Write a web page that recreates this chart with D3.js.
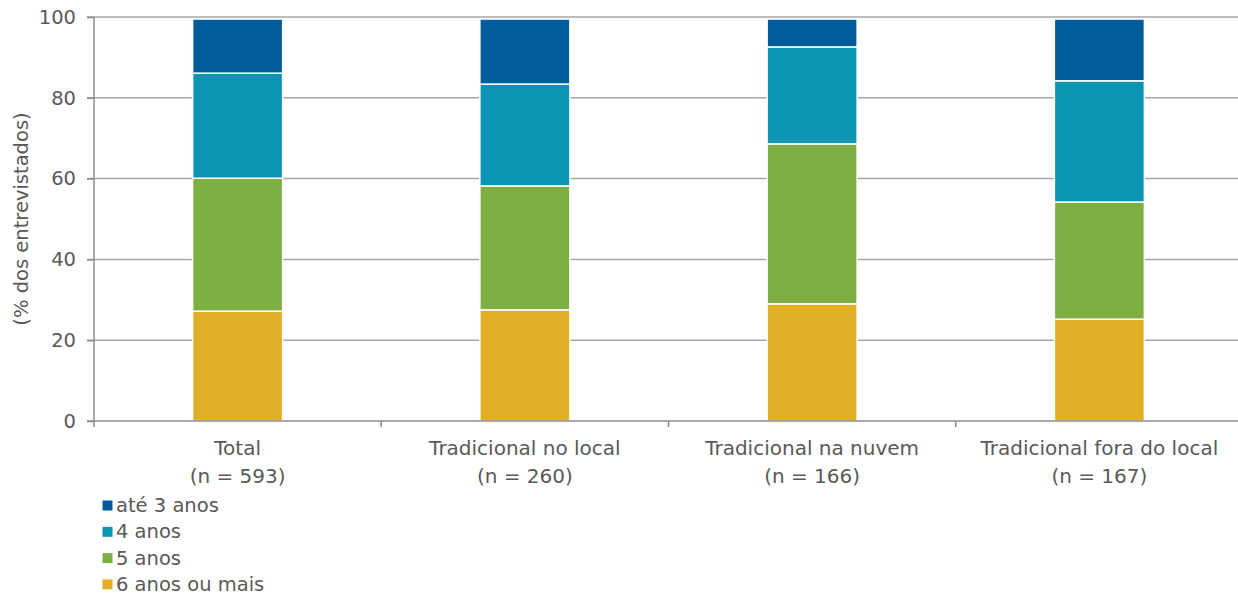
<!DOCTYPE html>
<html>
<head>
<meta charset="utf-8">
<script src="https://cdn.jsdelivr.net/npm/d3@7"></script>
<style>
  body { margin: 0; background: #fff; }
  text { font-family: 'DejaVu Sans', sans-serif; fill: #595959; }
</style>
</head>
<body>
<svg id="chart"></svg>
<script>
// categories and series (percent of respondents)
const categories = ['Total', 'Tradicional no local', 'Tradicional na nuvem', 'Tradicional fora do local']
const sampleSizes = ['(n = 593)', '(n = 260)', '(n = 166)', '(n = 167)']
const seriesNames = ['6 anos ou mais', '5 anos', '4 anos', 'até 3 anos']
const sixPlus = [27.2, 27.5, 29.0, 25.2]
const five = [32.9, 30.7, 39.6, 29.0]
const four = [26.0, 25.2, 24.0, 30.0]
const upToThree = [13.4, 16.1, 6.9, 15.3]
const colors = ['#e0af25', '#7daf42', '#0b95b3', '#005b9a']
const yTicks = [0, 20, 40, 60, 80, 100]

const W = 1238
const H = 598
const margin = { top: 17, left: 94, right: -5, bottom: 177 }
const width = W - margin.left - margin.right
const height = H - margin.top - margin.bottom
const fontSize = 19.5

const svg = d3.select('#chart').attr('width', W).attr('height', H)
const g = svg.append('g').attr('transform', 'translate(' + margin.left + ',' + margin.top + ')')

const rows = categories.map((c, i) => ({
  cat: c,
  '6 anos ou mais': sixPlus[i],
  '5 anos': five[i],
  '4 anos': four[i],
  'até 3 anos': upToThree[i]
}))
const stacked = d3.stack().keys(seriesNames)(rows)

const x = d3.scaleBand().domain(categories).range([0, width]).paddingInner(0).paddingOuter(0)
const y = d3.scaleLinear().domain([0, 100]).range([height, 0])
const barW = 90

// gridlines
g.append('g')
  .selectAll('line')
  .data(yTicks.filter(d => d > 0))
  .join('line')
  .attr('x1', -7)
  .attr('x2', width)
  .attr('y1', d => y(d))
  .attr('y2', d => y(d))
  .attr('stroke', '#a6a6a6')
  .attr('stroke-width', 1.5)

// y axis
const yAxis = g.append('g')
  .call(d3.axisLeft(y).tickValues(yTicks).tickSize(7).tickPadding(11))
yAxis.select('.domain').attr('stroke', '#8c8c8c').attr('stroke-width', 1.5).attr('d', 'M0,' + (height + 6) + 'V0')
yAxis.selectAll('.tick line').attr('stroke', '#8c8c8c').attr('stroke-width', 1.5)
yAxis.selectAll('.tick text').attr('font-size', fontSize).style('fill', '#595959')

// bars
g.append('g')
  .selectAll('g')
  .data(stacked)
  .join('g')
  .attr('fill', (d, i) => colors[i])
  .selectAll('rect')
  .data(d => d)
  .join('rect')
  .attr('x', d => x(d.data.cat) + x.bandwidth() / 2 - barW / 2)
  .attr('y', d => y(d[1]))
  .attr('width', barW)
  .attr('height', d => y(d[0]) - y(d[1]))
  .attr('stroke', '#fff')
  .attr('stroke-width', 1.5)

// x axis
const xAxis = g.append('g').attr('transform', 'translate(0,' + height + ')')
xAxis.append('line')
  .attr('x1', -7).attr('x2', width)
  .attr('stroke', '#8c8c8c').attr('stroke-width', 1.5)
xAxis.selectAll('.sep')
  .data(categories.slice(1))
  .join('line')
  .attr('class', 'sep')
  .attr('x1', d => x(d)).attr('x2', d => x(d))
  .attr('y1', 0).attr('y2', 6)
  .attr('stroke', '#8c8c8c').attr('stroke-width', 1.5)

const labels = xAxis.selectAll('.cat')
  .data(categories)
  .join('text')
  .attr('class', 'cat')
  .attr('text-anchor', 'middle')
  .attr('font-size', 20)
  .attr('x', d => x(d) + x.bandwidth() / 2)
labels.append('tspan').attr('x', d => x(d) + x.bandwidth() / 2).attr('y', 34).text(d => d)
labels.append('tspan').attr('x', d => x(d) + x.bandwidth() / 2).attr('y', 62).text((d, i) => sampleSizes[i])

// y label
svg.append('text')
  .attr('transform', 'translate(28,' + (margin.top + height / 2) + ') rotate(-90)')
  .attr('text-anchor', 'middle')
  .attr('font-size', fontSize)
  .text('(% dos entrevistados)')

// legend
const legendOrder = ['até 3 anos', '4 anos', '5 anos', '6 anos ou mais']
const legend = svg.append('g').attr('transform', 'translate(102,505)')
const item = legend.selectAll('g')
  .data(legendOrder)
  .join('g')
  .attr('transform', (d, i) => 'translate(0,' + i * 26.3 + ')')
item.append('rect')
  .attr('x', 0).attr('y', -5)
  .attr('width', 11).attr('height', 11)
  .attr('fill', d => colors[seriesNames.indexOf(d)])
  .attr('stroke', '#fff').attr('stroke-width', 1)
item.append('text')
  .attr('x', 14).attr('y', 7)
  .attr('font-size', fontSize)
  .text(d => d)
</script>
</body>
</html>
